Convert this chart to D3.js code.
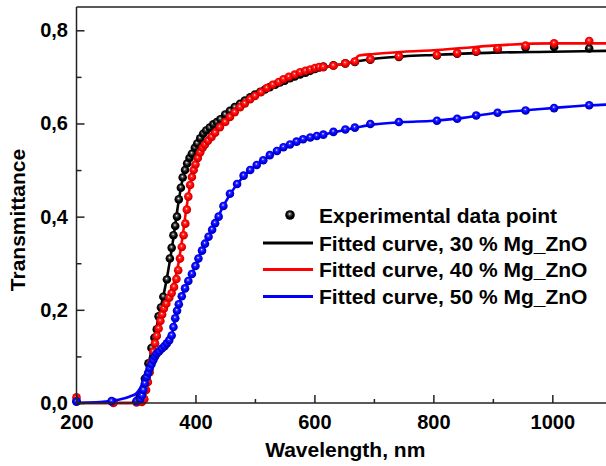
<!DOCTYPE html>
<html>
<head>
<meta charset="utf-8">
<script src="https://cdn.jsdelivr.net/npm/d3@7"></script>
<style>
  body { margin: 0; background: #fff; }
  svg { display: block; font-family: "Liberation Sans", Arial, sans-serif; font-weight: bold; }
</style>
</head>
<body>
<svg width="606" height="466"></svg>
<script>
// experimental points [wavelength nm, transmittance]
var exp30 = [[200,0.004],[262,0.002],[301,0.003],[306,0.012],[310,0.022],[315,0.052],[321,0.085],[326,0.118],[331,0.14],[335,0.158],[338,0.186],[342,0.205],[346,0.228],[352,0.265],[357,0.31],[360,0.333],[363,0.36],[366,0.38],[369,0.40],[372,0.437],[375.5,0.462],[378.5,0.484],[382.5,0.5],[386,0.514],[390,0.526],[394,0.535],[399,0.548],[403,0.557],[408,0.568],[413,0.578],[418,0.585],[424,0.591],[430,0.598],[436,0.603],[442,0.609],[450,0.619],[458,0.627],[466,0.635],[475,0.642],[483,0.649],[492,0.656],[500,0.662],[509,0.668],[517,0.673],[525,0.678],[534,0.683],[542,0.688],[550,0.692],[559,0.697],[567,0.701],[576,0.705],[585,0.709],[593,0.713],[601,0.717],[608,0.72],[615,0.722],[632,0.725],[652,0.729],[668,0.732],[694,0.737],[742,0.743],[806,0.746],[840,0.75],[872,0.754],[908,0.759],[955,0.763],[1003,0.764],[1062,0.761]];

var exp40 = [[200,0.012],[262,0.0],[301,0.001],[310,0.002],[314,0.008],[317,0.028],[320,0.045],[323,0.066],[326,0.088],[329,0.11],[332,0.128],[335,0.144],[338,0.16],[341,0.176],[344,0.19],[347,0.203],[351,0.213],[356,0.226],[360,0.236],[364,0.249],[368,0.266],[371,0.285],[374,0.31],[377,0.335],[380,0.36],[383,0.385],[385.5,0.415],[388,0.443],[391,0.468],[394,0.485],[397,0.5],[400,0.512],[404,0.526],[408,0.538],[412,0.548],[416,0.555],[421,0.563],[427,0.571],[433,0.58],[441,0.592],[450,0.603],[458,0.614],[466,0.624],[475,0.635],[483,0.643],[492,0.652],[500,0.659],[510,0.667],[520,0.676],[530,0.683],[540,0.689],[548,0.695],[557,0.7],[567,0.705],[576,0.71],[585,0.713],[593,0.716],[601,0.719],[608,0.721],[615,0.721],[632,0.724],[652,0.729],[668,0.733],[694,0.738],[742,0.744],[806,0.747],[840,0.751],[872,0.755],[908,0.761],[955,0.767],[1003,0.772],[1062,0.777]];

var exp50 = [[200,0.003],[259,0.004],[301,0.004],[307,0.008],[310,0.016],[312.5,0.028],[315,0.042],[318,0.056],[320.5,0.065],[323,0.074],[326,0.083],[329,0.092],[332,0.1],[335,0.106],[339,0.111],[343.5,0.117],[348,0.122],[352,0.128],[356,0.135],[360,0.145],[363,0.163],[366,0.182],[369,0.198],[372,0.212],[377,0.229],[382.5,0.246],[388,0.262],[394,0.277],[400,0.294],[405,0.31],[411,0.327],[416,0.342],[422,0.357],[428,0.372],[433,0.386],[439,0.40],[447,0.423],[458,0.449],[470,0.47],[481,0.488],[492,0.5],[503,0.511],[514,0.521],[525,0.532],[537,0.541],[548,0.549],[559,0.555],[570,0.561],[581,0.566],[593,0.57],[604,0.573],[615,0.576],[632,0.582],[652,0.587],[668,0.591],[694,0.599],[742,0.603],[806,0.606],[840,0.61],[872,0.617],[908,0.623],[955,0.628],[1003,0.633],[1062,0.639]];

// fitted curves
var fit30 = [[200,0],[290,0],[300,0.003],[305,0.012],[310,0.03],[320,0.078],[330,0.135],[340,0.195],[350,0.255],[357,0.305],[363,0.355],[369,0.41],[375,0.458],[381,0.495],[390,0.527],[400,0.551],[410,0.572],[425,0.592],[440,0.607],[460,0.627],[480,0.646],[500,0.662],[525,0.678],[550,0.692],[575,0.705],[600,0.716],[625,0.723],[650,0.728],[670,0.733],[700,0.739],[750,0.744],[800,0.747],[900,0.752],[1000,0.754],[1100,0.756]];

var fit40 = [[200,0],[300,0],[312,0.003],[318,0.03],[324,0.07],[330,0.122],[340,0.175],[352,0.215],[363,0.255],[370,0.29],[377,0.345],[385,0.42],[394,0.485],[400,0.515],[408,0.543],[425,0.575],[441,0.597],[460,0.62],[480,0.641],[500,0.659],[525,0.68],[550,0.696],[575,0.709],[600,0.718],[625,0.723],[650,0.728],[665,0.733],[675,0.746],[700,0.749],[750,0.754],[800,0.757],[850,0.762],[900,0.767],[1000,0.772],[1100,0.772]];

var fit50 = [[200,0],[240,0.002],[270,0.007],[290,0.014],[301,0.021],[307,0.032],[312,0.045],[318,0.066],[325,0.085],[335,0.104],[345,0.118],[355,0.132],[360,0.145],[365,0.175],[370,0.204],[377,0.229],[390,0.266],[400,0.295],[410,0.325],[420,0.354],[435,0.392],[450,0.43],[470,0.47],[490,0.498],[510,0.517],[530,0.535],[550,0.55],[575,0.563],[600,0.572],[625,0.579],[650,0.586],[670,0.591],[700,0.598],[750,0.603],[800,0.606],[850,0.612],[900,0.622],[950,0.628],[1000,0.633],[1062,0.639],[1100,0.641]];

var xMajor = [200, 400, 600, 800, 1000];
var xMinor = [300, 500, 700, 900];
var yMajor = [0, 0.2, 0.4, 0.6, 0.8];
var yMinor = [0.1, 0.3, 0.5, 0.7];

var legendLabels = ["Experimental data point", "Fitted curve, 30 % Mg_ZnO", "Fitted curve, 40 % Mg_ZnO", "Fitted curve, 50 % Mg_ZnO"];

var svg = d3.select("svg");
var plotLeft = 76.5, plotRight = 611.8, plotTop = 7, plotBottom = 403;

var x = d3.scaleLinear().domain([200, 1100]).range([plotLeft, plotRight]);
var y = d3.scaleLinear().domain([0, 0.85]).range([plotBottom, plotTop]);

var series = [
  {exp: exp30, fit: fit30, color: "#000000", mid: "#555555", dark: "#000000", id: "g30"},
  {exp: exp40, fit: fit40, color: "#ff0000", mid: "#ff2a2a", dark: "#b00000", id: "g40"},
  {exp: exp50, fit: fit50, color: "#0000ff", mid: "#2a2aff", dark: "#0000a0", id: "g50"}
];

// shaded-sphere look for the symbols
var defs = svg.append("defs");
series.forEach(function(s) {
  var g = defs.append("radialGradient").attr("id", s.id)
    .attr("cx", "50%").attr("cy", "45%").attr("r", "55%")
    .attr("fx", "45%").attr("fy", "38%");
  g.append("stop").attr("offset", "0%").attr("stop-color", "#ffffff");
  g.append("stop").attr("offset", "25%").attr("stop-color", s.mid);
  g.append("stop").attr("offset", "60%").attr("stop-color", s.color);
  g.append("stop").attr("offset", "100%").attr("stop-color", s.dark);
});

var line = d3.line()
  .x(function(d) { return x(d[0]); })
  .y(function(d) { return y(d[1]); })
  .curve(d3.curveMonotoneX);

series.forEach(function(s) {
  svg.append("path")
    .datum(s.fit)
    .attr("d", line)
    .attr("fill", "none")
    .attr("stroke", s.color)
    .attr("stroke-width", 2.6);

  svg.append("g").selectAll("circle")
    .data(s.exp)
    .enter().append("circle")
      .attr("cx", function(d) { return x(d[0]); })
      .attr("cy", function(d) { return y(d[1]); })
      .attr("r", 4.3)
      .attr("fill", "url(#" + s.id + ")");
});

// frame
var frame = svg.append("g").attr("stroke", "#222").attr("stroke-width", 1.5);
frame.append("line").attr("x1", plotLeft).attr("x2", plotLeft).attr("y1", plotTop).attr("y2", plotBottom);
frame.append("line").attr("x1", plotLeft).attr("x2", plotRight).attr("y1", plotTop).attr("y2", plotTop);
frame.append("line").attr("x1", plotLeft).attr("x2", plotRight).attr("y1", plotBottom).attr("y2", plotBottom);

var comma = function(d) { return d3.format(".1f")(d).replace(".", ","); };

svg.append("g")
  .attr("transform", "translate(" + plotLeft + ",0)")
  .call(d3.axisLeft(y).tickValues(yMajor).tickSizeInner(-8).tickSizeOuter(0).tickPadding(8.5).tickFormat(comma));
svg.append("g")
  .attr("transform", "translate(" + plotLeft + ",0)")
  .call(d3.axisLeft(y).tickValues(yMinor).tickSizeInner(-5).tickSizeOuter(0).tickFormat(""));

svg.append("g")
  .attr("transform", "translate(0," + plotBottom + ")")
  .call(d3.axisBottom(x).tickValues(xMajor).tickSizeInner(-8).tickSizeOuter(0).tickPadding(12).tickFormat(d3.format("d")));
svg.append("g")
  .attr("transform", "translate(0," + plotBottom + ")")
  .call(d3.axisBottom(x).tickValues(xMinor).tickSizeInner(-4).tickSizeOuter(0).tickFormat(""));

svg.selectAll(".domain").remove();
svg.selectAll(".tick line").attr("stroke", "#222").attr("stroke-width", 1.5);
svg.selectAll(".tick text")
  .attr("fill", "#000")
  .style("font-size", "20px")
  .style("font-weight", "bold")
  .style("font-family", "'Liberation Sans', Arial, sans-serif");

svg.append("text")
  .attr("x", (plotLeft + 606) / 2 + 4)
  .attr("y", 457)
  .attr("text-anchor", "middle")
  .style("font-size", "21px")
  .text("Wavelength, nm");

svg.append("text")
  .attr("transform", "translate(25,220) rotate(-90)")
  .attr("text-anchor", "middle")
  .style("font-size", "21px")
  .text("Transmittance");

// legend
var legend = svg.append("g");
var legendY = [215, 243, 269.5, 296.5];
legend.append("circle")
  .attr("cx", 290).attr("cy", legendY[0]).attr("r", 4.8)
  .attr("fill", "url(#g30)");
series.forEach(function(s, i) {
  legend.append("line")
    .attr("x1", 263).attr("x2", 313)
    .attr("y1", legendY[i + 1]).attr("y2", legendY[i + 1])
    .attr("stroke", s.color).attr("stroke-width", 3);
});
legend.selectAll("text")
  .data(legendLabels)
  .enter().append("text")
    .attr("x", 319)
    .attr("y", function(d, i) { return legendY[i] + 7.5; })
    .style("font-size", "21px")
    .text(function(d) { return d; });
</script>
</body>
</html>
